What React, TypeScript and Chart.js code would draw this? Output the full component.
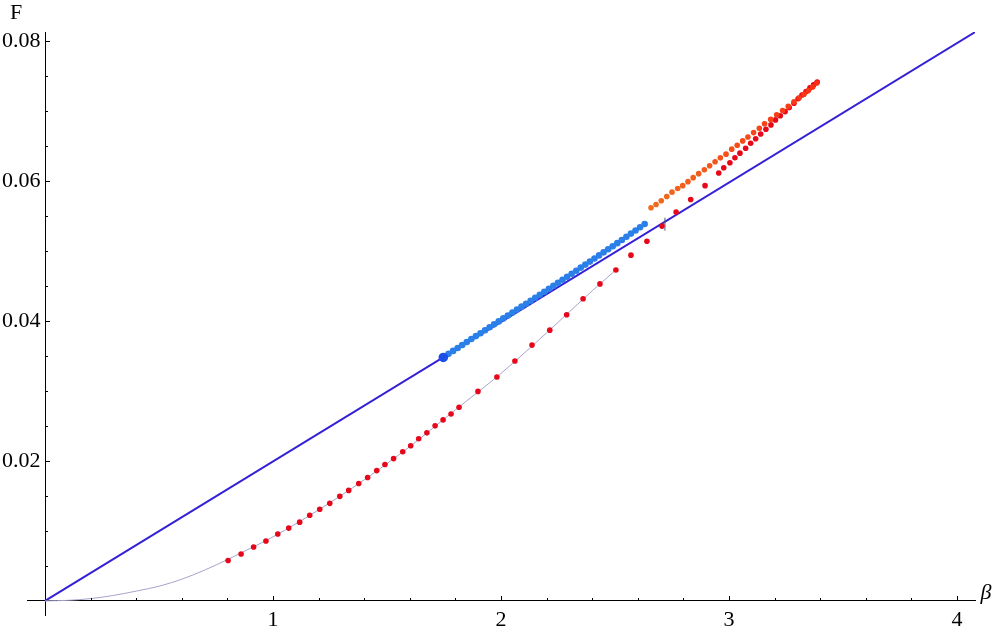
import React, { useEffect, useRef } from "react";
import { Chart, registerables } from "chart.js";

Chart.register(...registerables);

// ---- data ----
const lineBeta = [0, 4.08];
const lineF = [0, 0.08128];

const curveBeta = [0, 0.1, 0.2, 0.3, 0.4, 0.5, 0.6, 0.7, 0.8, 0.9, 1.0, 1.2, 1.4, 1.6, 1.8, 2.0, 2.2, 2.4, 2.504];
const curveF = [0, 0.00008, 0.00033, 0.00078, 0.0014, 0.0021, 0.0031, 0.0044, 0.0059, 0.0075, 0.00915, 0.013, 0.0173, 0.02205, 0.0273, 0.0325, 0.0383, 0.0443, 0.04728];

const redBeta = [
  0.803, 0.86, 0.915, 0.969, 1.021, 1.069, 1.117, 1.161, 1.205, 1.249, 1.293, 1.332, 1.376, 1.415,
  1.455, 1.491, 1.529, 1.569, 1.604, 1.639, 1.675, 1.711, 1.746, 1.781, 1.816,
  1.899, 1.982, 2.061, 2.136, 2.214, 2.288, 2.36, 2.434, 2.504,
  2.57, 2.64, 2.706, 2.768, 2.832, 2.895,
  2.955, 2.977, 3.004, 3.026, 3.048, 3.073, 3.095, 3.117, 3.139, 3.162, 3.184, 3.204, 3.225,
  3.246, 3.264, 3.285, 3.303, 3.32, 3.338, 3.355, 3.371, 3.387,
];
const redF = [
  0.00577, 0.00671, 0.0077, 0.00855, 0.00955, 0.0104, 0.01125, 0.01224, 0.01309, 0.01394, 0.01494, 0.01579, 0.01678, 0.01763,
  0.01862, 0.01948, 0.02033, 0.02132, 0.02217, 0.02316, 0.02401, 0.02501, 0.02586, 0.02671, 0.02766,
  0.02993, 0.032, 0.03428, 0.03655, 0.03868, 0.04089, 0.04316, 0.04529, 0.04728,
  0.0494, 0.05139, 0.05355, 0.05556, 0.05735, 0.05933,
  0.06113, 0.06189, 0.0626, 0.06331, 0.06397, 0.06468, 0.06539, 0.06603, 0.0667, 0.06738, 0.06801, 0.06872, 0.06932,
  0.0699, 0.0705, 0.07109, 0.07174, 0.07227, 0.07277, 0.07329, 0.07372, 0.07414,
];

const orangeBeta = [
  2.658, 2.68, 2.703, 2.727, 2.75, 2.775, 2.797, 2.82, 2.843, 2.867, 2.892, 2.915, 2.939, 2.962, 2.987, 3.012,
  3.036, 3.06, 3.083, 3.108, 3.133, 3.156, 3.183, 3.209, 3.235, 3.26, 3.285, 3.308, 3.329, 3.348, 3.367, 3.385,
];
const orangeF = [
  0.05617, 0.05664, 0.05716, 0.05777, 0.0584, 0.05891, 0.05933, 0.0599, 0.06047, 0.06104, 0.0616, 0.06217, 0.06274, 0.0633, 0.06383, 0.06454,
  0.06511, 0.06572, 0.06628, 0.06691, 0.06752, 0.06818, 0.06879, 0.06946, 0.07007, 0.07068, 0.0713, 0.07187, 0.07238, 0.07291, 0.07343, 0.074,
];

const blueBeta = [
  1.75, 1.77, 1.79, 1.81, 1.83, 1.85, 1.87, 1.89, 1.91, 1.93, 1.95, 1.97, 1.99, 2.01, 2.03, 2.05, 2.07, 2.09, 2.11, 2.13,
  2.15, 2.17, 2.19, 2.21, 2.23, 2.25, 2.27, 2.29, 2.31, 2.33, 2.35, 2.37, 2.39, 2.41, 2.43, 2.45, 2.47, 2.49, 2.51, 2.53,
  2.55, 2.57, 2.59, 2.61, 2.63,
];
const blueF = [
  0.03488, 0.0353, 0.03572, 0.03614, 0.03656, 0.03698, 0.03741, 0.03783, 0.03825, 0.03866, 0.03909, 0.03951, 0.03993, 0.04036,
  0.04078, 0.0412, 0.04162, 0.04204, 0.04246, 0.04289, 0.04332, 0.04375, 0.04417, 0.0446, 0.04502, 0.04545, 0.04588, 0.04631,
  0.04674, 0.04718, 0.04762, 0.04805, 0.04848, 0.04893, 0.04936, 0.0498, 0.05024, 0.05067, 0.05111, 0.05157, 0.05203, 0.05248,
  0.05293, 0.05338, 0.05384,
];

const startBeta = [1.747];
const startF = [0.03478];

const markBeta = [2.719, 2.719];
const markF = [0.0529, 0.05475];

const xTickValues = [1, 2, 3, 4];
const xTickLabels = ["1", "2", "3", "4"];
const yTickValues = [0.02, 0.04, 0.06, 0.08];
const yTickLabels = ["0.02", "0.04", "0.06", "0.08"];

const xAxisTitle = "β";
const yAxisTitle = "F";

const FONT = "'Liberation Serif', 'Times New Roman', serif";

const pts = (xs: number[], ys: number[]) => xs.map((x, i) => ({ x, y: ys[i] }));

const findLabel = (v: number, vals: number[], labels: string[]) => {
  const i = vals.findIndex((m) => Math.abs(m - v) < 1e-9);
  return i >= 0 ? labels[i] : "";
};

const axisDecor = {
  id: "axisDecor",
  afterDraw(chart: any) {
    const ctx = chart.ctx;
    const xs = chart.scales.x;
    const ys = chart.scales.y;
    const x0 = xs.getPixelForValue(0);
    const y0 = ys.getPixelForValue(0);
    ctx.save();
    ctx.strokeStyle = "#000";
    ctx.lineWidth = 1;
    ctx.beginPath();
    xs.ticks.forEach((t: any) => {
      if (Math.abs(t.value) < 1e-9) return;
      const major = findLabel(t.value, xTickValues, xTickLabels) !== "";
      const px = Math.round(xs.getPixelForValue(t.value)) + 0.5;
      ctx.moveTo(px, Math.round(y0));
      ctx.lineTo(px, Math.round(y0) - (major ? 5 : 3));
    });
    ys.ticks.forEach((t: any) => {
      if (Math.abs(t.value) < 1e-9) return;
      const major = findLabel(t.value, yTickValues, yTickLabels) !== "";
      const py = Math.round(ys.getPixelForValue(t.value)) + 0.5;
      ctx.moveTo(Math.round(x0), py);
      ctx.lineTo(Math.round(x0) + (major ? 5 : 3), py);
    });
    ctx.stroke();
    ctx.fillStyle = "#000";
    ctx.font = `22px ${FONT}`;
    ctx.textAlign = "center";
    ctx.textBaseline = "alphabetic";
    ctx.fillText(yAxisTitle, 16, 19);
    ctx.font = `italic 22px ${FONT}`;
    ctx.fillText(xAxisTitle, 986, 599);
    ctx.restore();
  },
};

export default function App() {
  const ref = useRef<HTMLCanvasElement | null>(null);
  useEffect(() => {
    if (!ref.current) return;
    const n = orangeBeta.length;
    const chart = new Chart(ref.current, {
      type: "scatter",
      data: {
        datasets: [
          {
            data: pts(startBeta, startF),
            pointRadius: 4.8,
            pointBorderWidth: 0,
            pointBackgroundColor: "#1c4fe6",
          },
          {
            data: pts(blueBeta, blueF),
            pointRadius: 3.3,
            pointBorderWidth: 0,
            pointBackgroundColor: "#2a7fe8",
          },
          {
            data: pts(orangeBeta, orangeF),
            pointRadius: 2.8,
            pointBorderWidth: 0,
            pointBackgroundColor: (c: any) => {
              const t = c.dataIndex / (n - 1);
              const r = Math.round(240 + 10 * t);
              const g = Math.round(108 - 60 * t);
              const b = Math.round(30 - 10 * t);
              return `rgb(${r},${g},${b})`;
            },
          },
          {
            data: pts(redBeta, redF),
            pointRadius: 2.8,
            pointBorderWidth: 0,
            pointBackgroundColor: "#e6081a",
          },
          {
            data: pts(markBeta, markF),
            showLine: true,
            borderColor: "#555566",
            borderWidth: 1,
            pointRadius: 0,
          },
          {
            data: pts(curveBeta, curveF),
            showLine: true,
            cubicInterpolationMode: "monotone",
            borderColor: "#a4a4cc",
            borderWidth: 1,
            pointRadius: 0,
          },
          {
            data: pts(lineBeta, lineF),
            showLine: true,
            borderColor: "#3420d6",
            borderWidth: 2,
            pointRadius: 0,
          },
        ],
      },
      options: {
        responsive: false,
        animation: false,
        events: [],
        layout: { padding: { left: 27, right: 25, top: 32, bottom: 13 } },
        plugins: { legend: { display: false }, tooltip: { enabled: false } },
        scales: {
          x: {
            type: "linear",
            min: -0.079,
            max: 4.079,
            position: { y: 0 },
            grid: { display: true, drawOnChartArea: false, drawTicks: false },
            border: { display: true, color: "#000", width: 1 },
            ticks: {
              stepSize: 0.2,
              includeBounds: false,
              autoSkip: false,
              maxRotation: 0,
              padding: 6,
              color: "#000",
              font: { family: FONT, size: 22 },
              callback: (v: any) => findLabel(Number(v), xTickValues, xTickLabels),
            },
          },
          y: {
            type: "linear",
            min: -0.002128,
            max: 0.08128,
            position: { x: 0 },
            grid: { display: true, drawOnChartArea: false, drawTicks: false },
            border: { display: true, color: "#000", width: 1 },
            ticks: {
              stepSize: 0.005,
              includeBounds: false,
              autoSkip: false,
              padding: 4,
              color: "#000",
              font: { family: FONT, size: 22 },
              callback: (v: any) => {
                const s = findLabel(Number(v), yTickValues, yTickLabels);
                return s ? s + "\u2009" : "";
              },
            },
          },
        },
      },
      plugins: [axisDecor],
    } as any);
    return () => chart.destroy();
  }, []);
  return (
    <div style={{ position: "fixed", left: 0, top: 0, width: 1000, height: 633, background: "#fff" }}>
      <canvas ref={ref} width={1000} height={633} style={{ display: "block" }} />
    </div>
  );
}
